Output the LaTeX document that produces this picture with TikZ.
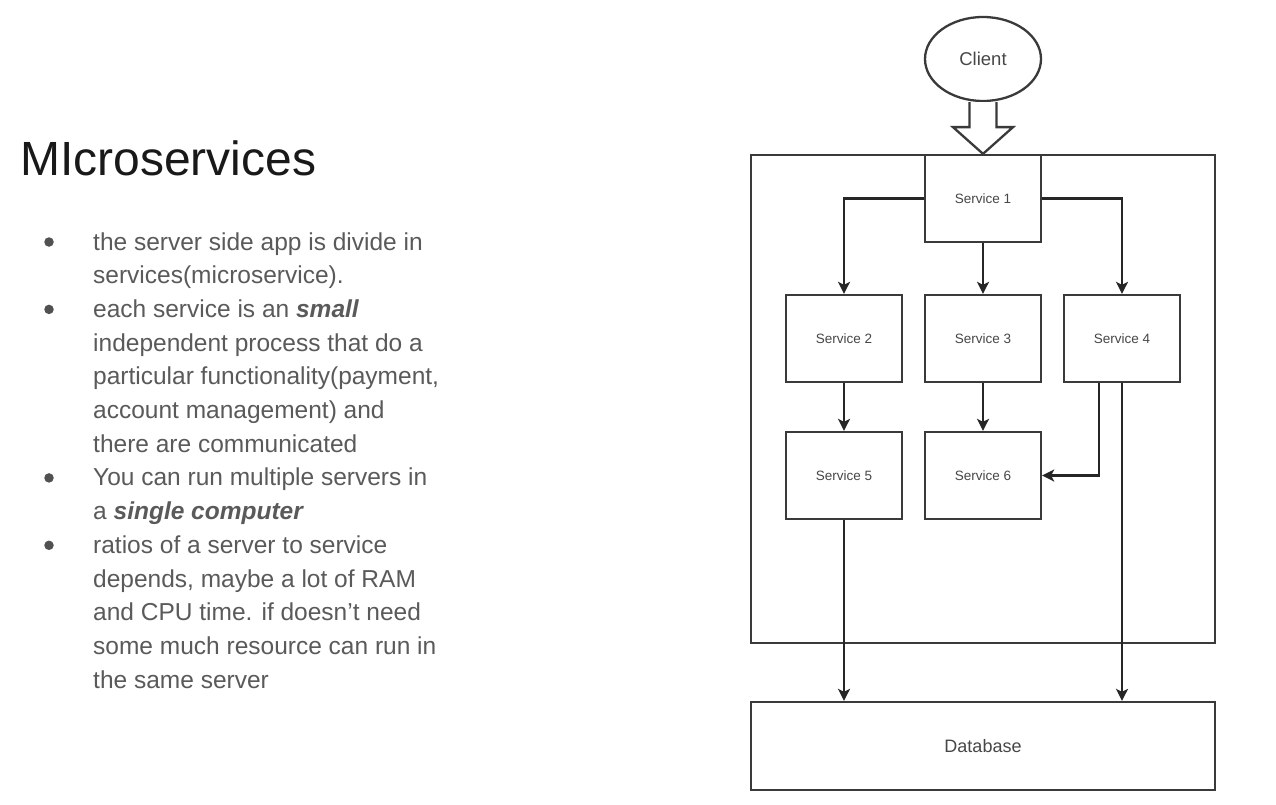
\documentclass[tikz,border=0pt]{standalone}
\usepackage{fontspec}
\setmainfont{Liberation Sans}
\usetikzlibrary{arrows.meta,shapes.geometric,calc}
\definecolor{bodygrey}{HTML}{5A5A5A}
\definecolor{boxline}{HTML}{3A3A3A}
\definecolor{boxtext}{HTML}{474747}
\begin{document}
\begin{tikzpicture}[x=1pt,y=-1pt,
  svc/.style={draw=boxline,line width=2.3pt,minimum width=116pt,minimum height=87pt,inner sep=0pt,
    text=boxtext,font=\fontsize{13.5}{16}\selectfont},
  frm/.style={draw=boxline,line width=2.3pt,inner sep=0pt},
  arr/.style={draw=black!85,line width=2.3pt,-{Stealth[length=12pt,width=12pt,inset=3pt]}},
  hollow/.style={draw=boxline,line width=2.3pt,line join=miter,fill=white},
  bodyline/.style={anchor=base west,inner sep=0pt,text=bodygrey,font=\fontsize{24.5}{29}\selectfont},
  dot/.style={circle,fill=bodygrey!90!black,inner sep=0pt,minimum size=9.5pt}]
\useasboundingbox (0,0) rectangle (1276,805);
\fill[white] (0,0) rectangle (1276,805);

% heading
\node[anchor=base west,inner sep=0pt,text=black!90,font=\fontsize{48}{56}\selectfont] (title) at (20,176) {MIcroservices};

% bullet list, one node per printed line
\foreach \n/\txt [count=\i] in {
  l1/{the server side app is divide in},
  l2/{services(microservice).},
  l3/{each service is an \textbf{\textit{small}}},
  l4/{independent process that do a},
  l5/{particular functionality(payment,},
  l6/{account management) and},
  l7/{there are communicated},
  l8/{You can run multiple servers in},
  l9/{a \textbf{\textit{single computer}}},
  l10/{ratios of a server to service},
  l11/{depends, maybe a lot of RAM},
  l12/{and CPU time. if doesn't need},
  l13/{some much resource can run in},
  l14/{the same server}}
  {\node[bodyline] (\n) at (93,{250+(\i-1)*33.7}) {\txt};}
\foreach \n/\k in {b1/1,b2/3,b3/8,b4/10}
  {\node[dot] (\n) at (49,{250-8+(\k-1)*33.7}) {};}

% diagram
\node[draw=boxline,line width=2.3pt,ellipse,minimum width=116pt,minimum height=84pt,inner sep=0pt,
  text=boxtext,font=\fontsize{18.5}{22}\selectfont] (client) at (983,59) {Client};
\node[frm,minimum width=464pt,minimum height=488pt] (frame) at (983,399) {};
\node[frm,minimum width=464pt,minimum height=88pt,text=boxtext,font=\fontsize{18}{22}\selectfont] (db) at (983,746) {Database};

\node[svc,fill=white] (s1) at (983,198.5) {Service 1};
\node[svc] (s2) at (844,338.5) {Service 2};
\node[svc] (s3) at (983,338.5) {Service 3};
\node[svc] (s4) at (1122,338.5) {Service 4};
\node[svc] (s5) at (844,475.5) {Service 5};
\node[svc] (s6) at (983,475.5) {Service 6};

% hollow arrow from the client into the server frame
\draw[hollow] ($(client.south)+(-13.5,0)$) -- ++(0,25) -- ++(-16.5,0) -- (frame.north)
  -- ($(client.south)+(30,25)$) -- ++(-16.5,0) -- ($(client.south)+(13.5,0)$);

% calls between services
\draw[arr] (s1.west) -| (s2.north);
\draw[arr] (s1.east) -| (s4.north);
\draw[arr] (s1.south) -- (s3.north);
\draw[arr] (s2.south) -- (s5.north);
\draw[arr] (s3.south) -- (s6.north);
\draw[arr] ($(s4.south)+(-23,0)$) |- (s6.east);
\draw[arr] (s4.south) -- (s4.south |- db.north);
\draw[arr] (s5.south) -- (s5.south |- db.north);
\end{tikzpicture}
\end{document}
